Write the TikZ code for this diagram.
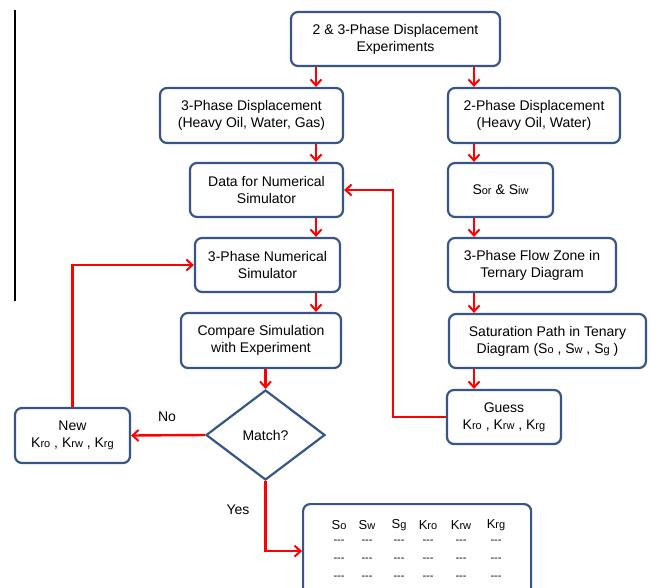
\documentclass[tikz,border=0pt]{standalone}
\usepackage{fontspec}
\setmainfont{Liberation Sans}
\usetikzlibrary{shapes.geometric,arrows.meta}
\definecolor{boxblue}{RGB}{55,85,135}
\newcommand{\sub}[1]{{\fontsize{11}{12}\selectfont #1}}
\tikzset{
  box/.style={draw=boxblue, line width=2.2pt, rounded corners=7pt, fill=white,
    align=center, inner sep=2pt, font=\fontsize{14}{17}\selectfont},
  arr/.style={draw=red, line width=2.4pt, -{Straight Barb[length=6pt,width=11pt,line width=2pt]}},
  lbl/.style={font=\fontsize{14}{17}\selectfont, inner sep=0pt}
}
\begin{document}
\begin{tikzpicture}[x=1pt,y=-1pt]
\useasboundingbox (0,0) rectangle (650,588);
\clip (0,0) rectangle (650,588);
\draw[line width=1.5pt] (15,10) -- (15,301);
\coordinate (xL) at (316,0);
\coordinate (xR) at (474,0);
\coordinate (xM) at (393,0);
\node[box, minimum width=209pt, minimum height=54pt] (top) at (395.5,39) {2 \& 3-Phase Displacement\\Experiments};
\node[box, minimum width=183pt, minimum height=55pt] (p3) at (251.5,115.5) {3-Phase Displacement\\(Heavy Oil, Water, Gas)};
\node[box, minimum width=172pt, minimum height=55pt] (p2) at (534,115.5) {2-Phase Displacement\\(Heavy Oil, Water)};
\node[box, minimum width=153pt, minimum height=54pt] (data) at (266.5,190) {Data for Numerical\\Simulator};
\node[box, minimum width=105pt, minimum height=54pt] (sor) at (500.5,190) {S\sub{or} \& S\sub{iw}};
\node[box, minimum width=145pt, minimum height=54pt] (num) at (267.5,265) {3-Phase Numerical\\Simulator};
\node[box, minimum width=168pt, minimum height=54pt] (flow) at (532,265) {3-Phase Flow Zone in\\Ternary Diagram};
\node[box, minimum width=160pt, minimum height=55pt] (cmp) at (261,340.5) {Compare Simulation\\with Experiment};
\node[box, minimum width=197pt, minimum height=54pt] (sat) at (547.5,341) {Saturation Path in Tenary\\Diagram (S\sub{o} , S\sub{w} , S\sub{g} )};
\node[box, minimum width=114pt, minimum height=54pt] (guess) at (504,417) {Guess\\K\sub{ro} , K\sub{rw} , K\sub{rg}};
\node[box, minimum width=115pt, minimum height=55pt] (new) at (72.5,435.5) {New\\K\sub{ro} , K\sub{rw} , K\sub{rg}};
\node[draw=boxblue, line width=2.2pt, diamond, fill=white, inner sep=0pt, minimum width=119pt, minimum height=90pt, font=\fontsize{14}{17}\selectfont] (match) at (265.5,435) {Match?};
\node[box, anchor=north west, minimum width=228pt, minimum height=94pt] (tbl) at (302,503) {};
% table contents
\foreach \x/\t in {339/S\sub{o},367/S\sub{w},399/S\sub{g},428/K\sub{ro},461/K\sub{rw},496/K\sub{rg}} {
  \node[lbl, font=\fontsize{13}{15}\selectfont] at (\x,525) {\t};
  \foreach \y in {542,560,578} {\node[lbl, font=\fontsize{11}{12}\selectfont] at (\x,\y) {-{}-{}-};}
}
% arrows
\draw[arr] (top.south -| xL) -- (p3.north -| xL);
\draw[arr] (top.south -| xR) -- (p2.north -| xR);
\draw[arr] (p3.south -| xL) -- (data.north -| xL);
\draw[arr] (data.south -| xL) -- (num.north -| xL);
\draw[arr] (num.south -| xL) -- (cmp.north -| xL);
\draw[arr] (match.north |- cmp.south) -- (match.north);
\draw[arr] (p2.south -| xR) -- (sor.north -| xR);
\draw[arr] (sor.south -| xR) -- (flow.north -| xR);
\draw[arr] (flow.south -| xR) -- (sat.north -| xR);
\draw[arr] (sat.south -| xR) -- (guess.north -| xR);
\draw[arr] (guess.west) -- (guess.west -| xM) |- (data.east);
\draw[arr] (match.west) -- (new.east);
\draw[arr] (new.north) |- (num.west);
\draw[arr] (match.south) |- (tbl.west);
\node[lbl] (no) at (167,417) {No};
\node[lbl] (yes) at (238,510) {Yes};
\end{tikzpicture}
\end{document}
